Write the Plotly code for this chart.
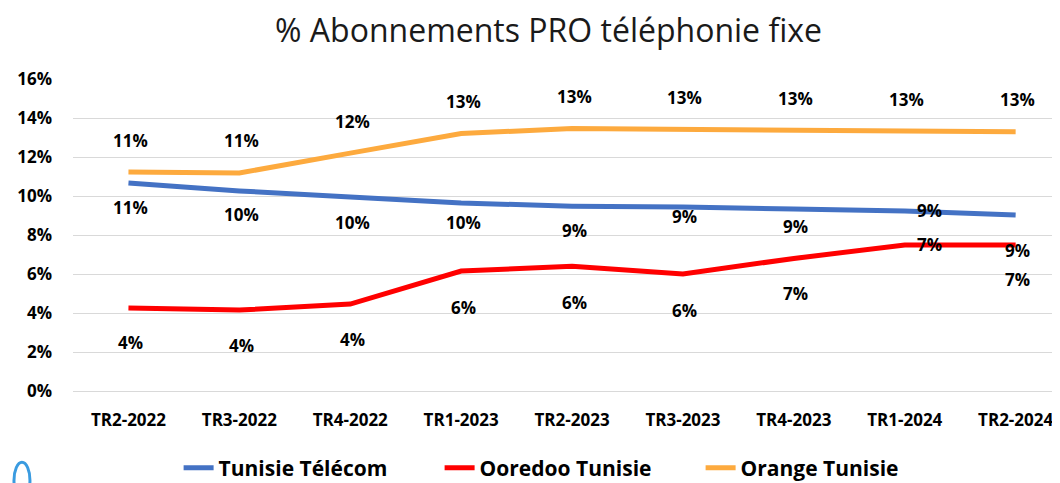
import plotly.graph_objects as go

trimestres = ["TR2-2022", "TR3-2022", "TR4-2022", "TR1-2023", "TR2-2023",
              "TR3-2023", "TR4-2023", "TR1-2024", "TR2-2024"]

tunisie_telecom = [0.1067, 0.1026, 0.0995, 0.0964, 0.0948, 0.0944, 0.0933, 0.0923, 0.0903]
ooredoo = [0.0426, 0.0415, 0.0446, 0.0615, 0.0640, 0.0600, 0.0680, 0.0749, 0.0749]
orange = [0.1123, 0.1118, 0.1220, 0.1320, 0.1346, 0.1340, 0.1338, 0.1333, 0.1330]

y_ticks = [0, 0.02, 0.04, 0.06, 0.08, 0.10, 0.12, 0.14, 0.16]

# label placement (pixels), like the hand-moved labels in the original
shift_tt = [-25, -24, -26, -19, -24, -10, -17, 1, -36]
xshift_tt = [0, 0, 0, 0, 0, 0, 0, 23, 0]
shift_oo = [-35, -35, -35, -36, -36, -36, -35, 0, -35]
xshift_oo = [0, 0, 0, 0, 0, 0, 0, 23, 0]
shift_or = [32] * 9

series = [
    ("Tunisie Télécom", tunisie_telecom, "#4472C4", shift_tt, xshift_tt),
    ("Ooredoo Tunisie", ooredoo, "#FF0000", shift_oo, xshift_oo),
    ("Orange Tunisie", orange, "#FDAA3E", shift_or, [0] * 9),
]

fig = go.Figure()
annots = []
for name, vals, col, ys, xs in series:
    fig.add_trace(go.Scatter(x=trimestres, y=vals, name=name, mode="lines",
                             line=dict(color=col, width=5)))
    for i, v in enumerate(vals):
        annots.append(dict(x=trimestres[i], y=v, text=f"{round(v * 100)}%",
                           showarrow=False, yshift=ys[i], xshift=xs[i] + 2,
                           font=dict(size=17, color="black", family="Open Sans", weight="bold")))

# bit of logo cut off at the bottom left
fig.add_shape(type="circle", xref="paper", yref="paper",
              x0=-0.0598, x1=-0.0436, y0=-0.345, y1=-0.228,
              line=dict(color="#3A9BE0", width=3))

# page body has an 8px margin, so the figure is 8px smaller than the window
fig.update_layout(
    width=1052, height=475,
    margin=dict(l=65, r=0, t=71, b=92, autoexpand=False),
    paper_bgcolor="white", plot_bgcolor="white",
    title=dict(text="% Abonnements PRO téléphonie fixe", x=0.5138, xanchor="center",
               y=0.952, yanchor="middle",
               font=dict(size=32, color="#1a1a1a", family="Open Sans")),
    annotations=annots,
    showlegend=True,
    legend=dict(orientation="h", x=0.107, xanchor="left", y=-0.247, yanchor="middle",
                font=dict(size=21, color="black", family="Open Sans", weight="bold"),
                itemwidth=30, entrywidth=216, entrywidthmode="pixels"),
    font=dict(family="Open Sans"),
)

fig.update_xaxes(range=[-0.5, 8.4], showgrid=False, showline=False, zeroline=False,
                 ticks="", ticklabelstandoff=17, automargin=False,
                 tickfont=dict(size=17, color="black", family="Open Sans", weight="bold"))
fig.update_yaxes(range=[0, 0.16], tickvals=y_ticks, tickformat=".0%",
                 showgrid=True, gridcolor="#D9D9D9", gridwidth=1,
                 zeroline=True, zerolinecolor="#D9D9D9", zerolinewidth=1,
                 showline=False, ticks="", ticklabelstandoff=20, automargin=False,
                 tickfont=dict(size=17, color="black", family="Open Sans", weight="bold"))

fig.write_html("out.html")
